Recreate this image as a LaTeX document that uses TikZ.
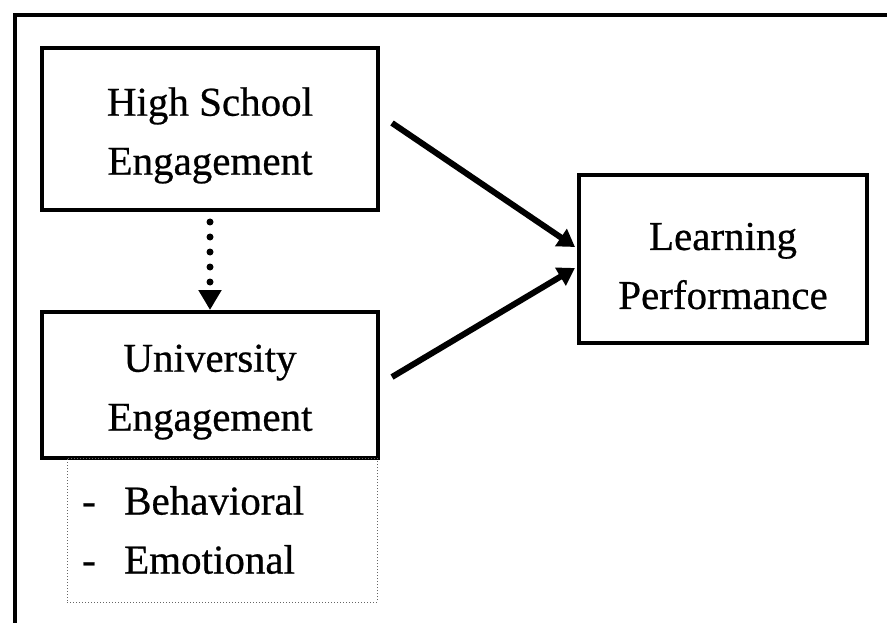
\documentclass[tikz,border=0pt]{standalone}
\usepackage{fontspec}
\setmainfont{Liberation Serif}[FakeBold=0.6]
\usetikzlibrary{arrows.meta}
\begin{document}
\begin{tikzpicture}[x=1pt,y=-1pt,
  every node/.style={font=\fontsize{41}{59}\selectfont, align=center, inner sep=0pt},
  box/.style={draw, line width=4pt, minimum width=#1},
  conn/.style={line width=6pt, -{Triangle[length=17pt,width=20pt]}},
  dotconn/.style={line width=7pt, dash pattern=on 0pt off 15pt, line cap=round, -{Triangle[length=20pt,width=22pt]}},
  listbox/.style={draw, line width=1pt, dotted, gray!80!black}]
\useasboundingbox (0,0) rectangle (887,623);
\fill[white] (0,0) rectangle (887,623);
% outer frame (cut at right and bottom)
\draw[line width=4.5pt] (15,640) -- (15,15) -- (900,15);
% nodes
\node[box=336pt, minimum height=162pt] (hs) at (210,129) {\strut High School\\Engagement};
\node[box=336pt, minimum height=146pt] (ue) at (210,385) {\strut University\\Engagement};
\node[box=288pt, minimum height=168pt] (lp) at (723,259) {\strut Learning\\Performance};
\node[listbox, minimum width=310pt, minimum height=144pt] (lb) at (222,530) {};
\node[anchor=west, align=left] (items) at (82,530) {\makebox[42pt][l]{-}Behavioral\\\makebox[42pt][l]{-}Emotional};
% connectors
\draw[dotconn] ([yshift=-10pt]hs.south) -- (ue.north);
\draw[conn] ([xshift=12pt,yshift=6pt]hs.east) -- ([xshift=-2pt,yshift=12pt]lp.west);
\draw[conn] ([xshift=12pt,yshift=8pt]ue.east) -- ([xshift=-2pt,yshift=-9pt]lp.west);
\end{tikzpicture}
\end{document}
